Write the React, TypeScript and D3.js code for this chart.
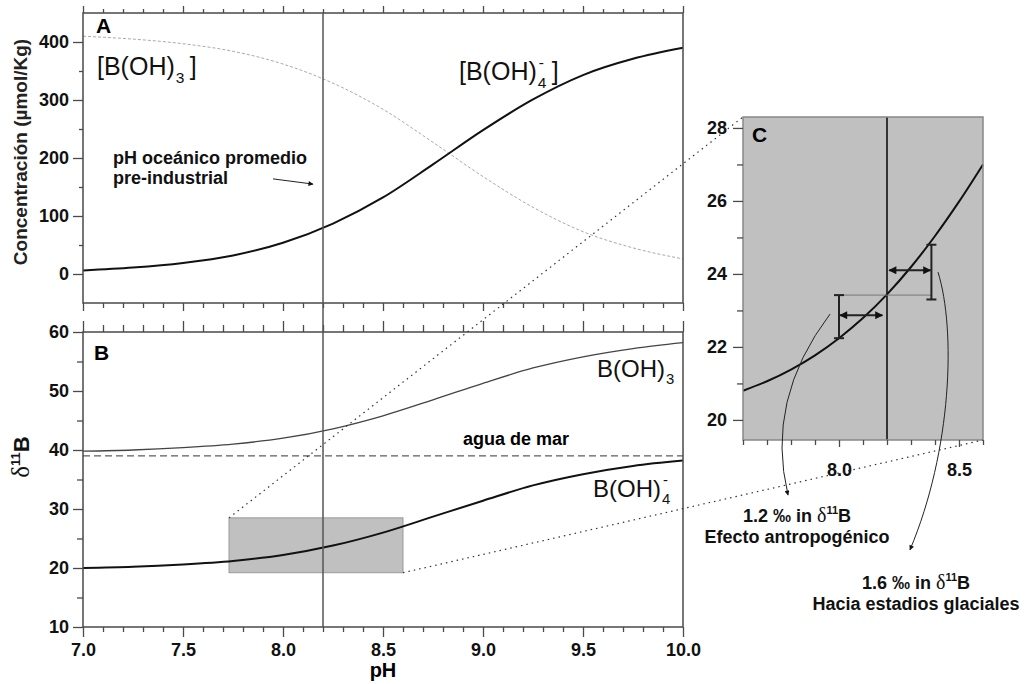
import { useRef, useEffect } from 'react';
import * as d3 from 'd3';

const WIDTH = 1031;
const HEIGHT = 684;

// pH grid shared by panels A and B
const phGrid = [7.0, 7.25, 7.5, 7.75, 8.0, 8.25, 8.5, 8.75, 9.0, 9.25, 9.5, 9.75, 10.0];
// panel A: concentration (µmol/Kg)
const borateConc = [6, 11, 19, 32, 54, 87, 132, 189, 248, 301, 343, 371, 390];
const boricConc = [410, 405, 397, 384, 362, 329, 284, 227, 168, 115, 73, 45, 26];
// panel B: d11B
const boricD11B = [39.8, 40.0, 40.4, 41.0, 42.0, 43.6, 45.8, 48.5, 51.3, 53.9, 55.8, 57.2, 58.2];
const borateD11B = [20.0, 20.2, 20.6, 21.2, 22.2, 23.8, 26.0, 28.7, 31.4, 34.0, 35.9, 37.3, 38.2];
const seawaterD11B = 39;
const preIndustrialPH = 8.2;

// panel C: zoom of the borate curve
const phZoom = [7.6, 7.7, 7.8, 7.9, 8.0, 8.1, 8.2, 8.3, 8.4, 8.5, 8.6];
const borateD11BZoom = [20.8, 21.06, 21.38, 21.77, 22.24, 22.79, 23.44, 24.19, 25.04, 25.98, 27.0];
const zoomBoxPH = [7.73, 8.6];
const zoomBoxD11B = [19.2, 28.5];

// [pH, low, high] bars and [pH from, pH to, d11B] arrows in panel C
const anthropoBar = [8.0, 22.24, 23.42];
const glacialBar = [8.385, 23.3, 24.8];
const anthropoArrow = [8.0, 8.185, 22.87];
const glacialArrow = [8.205, 8.385, 24.1];

const font = '"Liberation Sans", Arial, sans-serif';
const frameColor = '#4a4a4a';

const App = () => {
  const svgRef = useRef<SVGSVGElement>(null);

  useEffect(() => {
    const svg = d3.select(svgRef.current);
    svg.selectAll('*').remove(); // Clear existing content

    const x = d3.scaleLinear().domain([7, 10]).range([83, 683]);
    const yA = d3.scaleLinear().domain([-50, 450]).range([303, 13]);
    const yB = d3.scaleLinear().domain([10, 60]).range([627, 332]);
    const xC = d3.scaleLinear().domain([7.6, 8.6]).range([743, 983]);
    const yC = d3.scaleLinear().domain([19.45, 28.3]).range([440, 117]);

    const defs = svg.append('defs');
    const marker = (id: string, w: number, h: number) => {
      defs.append('marker')
        .attr('id', id)
        .attr('viewBox', '0 0 10 10')
        .attr('refX', 9).attr('refY', 5)
        .attr('markerUnits', 'userSpaceOnUse')
        .attr('markerWidth', w).attr('markerHeight', h)
        .attr('orient', 'auto-start-reverse')
        .append('path').attr('d', 'M0,0 L10,5 L0,10 z').attr('fill', '#111');
    };
    marker('arrowBig', 10, 8);
    marker('arrowSmall', 7, 5);

    const majorPH = d3.range(70, 101, 5).map(d => d / 10);
    const minorPH = d3.range(70, 101).filter(d => d % 5 !== 0).map(d => d / 10);

    const addTicks = (g, axis, values, size, fmt = null, pad = 3) => {
      axis.tickValues(values).tickSize(size).tickSizeOuter(0).tickPadding(pad)
        .tickFormat(fmt ? fmt : () => '');
      const sel = g.append('g').call(axis);
      sel.attr('font-family', null).attr('font-size', null);
      sel.select('.domain').remove();
      sel.selectAll('line').attr('stroke', frameColor).attr('stroke-width', 1.3);
      sel.selectAll('text')
        .attr('font-family', font).attr('font-size', 18)
        .attr('font-weight', 'bold').attr('fill', '#111');
      return sel;
    };

    // ---------- panel A ----------
    const gA = svg.append('g');
    const lineA = d3.line<number>().x((d, i) => x(phGrid[i])).y(d => yA(d)).curve(d3.curveMonotoneX);

    gA.append('path').datum(boricConc)
      .attr('fill', 'none').attr('stroke', '#aaa').attr('stroke-width', 1)
      .attr('stroke-dasharray', '3,2').attr('d', lineA);
    gA.append('path').datum(borateConc)
      .attr('fill', 'none').attr('stroke', '#111').attr('stroke-width', 2)
      .attr('d', lineA);

    gA.append('rect')
      .attr('x', 83).attr('y', 13).attr('width', 600).attr('height', 290)
      .attr('fill', 'none').attr('stroke', frameColor).attr('stroke-width', 1.5);

    addTicks(gA.append('g').attr('transform', 'translate(83,0)'), d3.axisLeft(yA), [0, 100, 200, 300, 400], 10, d3.format('d'), 4);
    addTicks(gA.append('g').attr('transform', 'translate(83,0)'), d3.axisLeft(yA), [50, 150, 250, 350], 4);
    addTicks(gA.append('g').attr('transform', 'translate(0,13)'), d3.axisTop(x), majorPH, 7);
    addTicks(gA.append('g').attr('transform', 'translate(0,13)'), d3.axisTop(x), minorPH, 4);
    addTicks(gA.append('g').attr('transform', 'translate(0,303)'), d3.axisBottom(x), majorPH, 8);
    addTicks(gA.append('g').attr('transform', 'translate(0,303)'), d3.axisBottom(x), minorPH, 5);

    gA.append('text').attr('x', 20).attr('y', 152)
      .attr('transform', 'rotate(-90,20,152)').attr('dy', '0.35em')
      .attr('text-anchor', 'middle').attr('font-family', font)
      .attr('font-size', 19).attr('font-weight', 'bold').attr('fill', '#222')
      .text('Concentración (µmol/Kg)');

    gA.append('text').attr('x', 96).attr('y', 33)
      .attr('font-family', font).attr('font-size', 21).attr('font-weight', 'bold').text('A');

    const chemLabel = (g, x0, y0, size, open, sub, charge, close) => {
      const t = g.append('text').attr('x', x0).attr('y', y0)
        .attr('font-family', font).attr('font-size', size).attr('fill', '#111').text(open);
      const w = t.node().getComputedTextLength();
      const s = g.append('text').attr('x', x0 + w + 1).attr('y', y0 + size * 0.3)
        .attr('font-family', font).attr('font-size', size * 0.62).attr('fill', '#111').text(sub);
      const sw = s.node().getComputedTextLength();
      if (charge) {
        g.append('text').attr('x', x0 + w + 2).attr('y', y0 - size * 0.5)
          .attr('font-family', font).attr('font-size', size * 0.62).attr('fill', '#111').text('-');
      }
      if (close) {
        g.append('text').attr('x', x0 + w + sw + size * 0.25).attr('y', y0)
          .attr('font-family', font).attr('font-size', size).attr('fill', '#111').text(close);
      }
    };
    chemLabel(gA, 97, 75, 25, '[B(OH)', '3', false, ']');
    chemLabel(gA, 459, 80, 25, '[B(OH)', '4', true, ']');

    const note = gA.append('text').attr('font-family', font).attr('font-size', 18)
      .attr('font-weight', 'bold').attr('fill', '#111');
    note.append('tspan').attr('x', 113).attr('y', 164).text('pH oceánico promedio');
    note.append('tspan').attr('x', 113).attr('y', 184).text('pre-industrial');
    gA.append('line')
      .attr('x1', x(7.95)).attr('y1', yA(164)).attr('x2', x(8.15)).attr('y2', yA(155))
      .attr('stroke', '#222').attr('stroke-width', 1).attr('marker-end', 'url(#arrowSmall)');

    // ---------- panel B ----------
    const gB = svg.append('g');
    const lineB = d3.line<number>().x((d, i) => x(phGrid[i])).y(d => yB(d)).curve(d3.curveMonotoneX);

    gB.append('rect')
      .attr('x', x(zoomBoxPH[0])).attr('y', yB(zoomBoxD11B[1]))
      .attr('width', x(zoomBoxPH[1]) - x(zoomBoxPH[0]))
      .attr('height', yB(zoomBoxD11B[0]) - yB(zoomBoxD11B[1]))
      .attr('fill', '#c0c0c0').attr('stroke', '#999').attr('stroke-width', 1);

    gB.append('line')
      .attr('x1', x(7)).attr('x2', x(10)).attr('y1', yB(seawaterD11B)).attr('y2', yB(seawaterD11B))
      .attr('stroke', '#333').attr('stroke-width', 1).attr('stroke-dasharray', '7,4');
    gB.append('path').datum(boricD11B)
      .attr('fill', 'none').attr('stroke', '#444').attr('stroke-width', 1.3).attr('d', lineB);
    gB.append('path').datum(borateD11B)
      .attr('fill', 'none').attr('stroke', '#111').attr('stroke-width', 2).attr('d', lineB);

    gB.append('rect')
      .attr('x', 83).attr('y', 332).attr('width', 600).attr('height', 295)
      .attr('fill', 'none').attr('stroke', frameColor).attr('stroke-width', 1.5);

    addTicks(gB.append('g').attr('transform', 'translate(83,0)'), d3.axisLeft(yB), [10, 20, 30, 40, 50, 60], 10, d3.format('d'), 4);
    addTicks(gB.append('g').attr('transform', 'translate(83,0)'), d3.axisLeft(yB), [15, 25, 35, 45, 55], 6);
    addTicks(gB.append('g').attr('transform', 'translate(0,332)'), d3.axisTop(x), majorPH, 11);
    addTicks(gB.append('g').attr('transform', 'translate(0,332)'), d3.axisTop(x), minorPH, 7);
    addTicks(gB.append('g').attr('transform', 'translate(0,627)'), d3.axisBottom(x), majorPH, 10, d3.format('.1f'), 6);
    addTicks(gB.append('g').attr('transform', 'translate(0,627)'), d3.axisBottom(x), minorPH, 5);

    gB.append('text').attr('x', 383).attr('y', 677).attr('text-anchor', 'middle')
      .attr('font-family', font).attr('font-size', 20).attr('font-weight', 'bold').text('pH');

    const dLab = gB.append('text').attr('transform', 'translate(29,457) rotate(-90)')
      .attr('text-anchor', 'middle').attr('fill', '#111');
    dLab.append('tspan').attr('font-family', '"Liberation Serif", serif').attr('font-size', 25).text('δ');
    dLab.append('tspan').attr('font-family', font).attr('font-size', 13).attr('font-weight', 'bold').attr('dy', -9).text('11');
    dLab.append('tspan').attr('font-family', font).attr('font-size', 22).attr('font-weight', 'bold').attr('dy', 9).text('B');

    gB.append('text').attr('x', 94).attr('y', 360)
      .attr('font-family', font).attr('font-size', 21).attr('font-weight', 'bold').text('B');

    chemLabel(gB, 597, 377, 24, 'B(OH)', '3', false, null);
    chemLabel(gB, 593, 497, 24, 'B(OH)', '4', true, null);

    gB.append('text').attr('x', 516).attr('y', 445).attr('text-anchor', 'middle')
      .attr('font-family', font).attr('font-size', 18).attr('font-weight', 'bold').text('agua de mar');

    // pre-industrial pH line across A and B
    svg.append('line')
      .attr('x1', x(preIndustrialPH)).attr('x2', x(preIndustrialPH)).attr('y1', 13).attr('y2', 627)
      .attr('stroke', '#555').attr('stroke-width', 1.5);

    // ---------- panel C ----------
    const gC = svg.append('g');
    gC.append('rect')
      .attr('x', xC(7.6)).attr('y', yC(28.3)).attr('width', xC(8.6) - xC(7.6)).attr('height', yC(19.45) - yC(28.3))
      .attr('fill', '#c0c0c0');

    const lineC = d3.line<number>().x((d, i) => xC(phZoom[i])).y(d => yC(d)).curve(d3.curveMonotoneX);
    gC.append('path').datum(borateD11BZoom)
      .attr('fill', 'none').attr('stroke', '#111').attr('stroke-width', 2).attr('d', lineC);

    gC.append('line')
      .attr('x1', xC(preIndustrialPH)).attr('x2', xC(preIndustrialPH)).attr('y1', yC(28.3)).attr('y2', yC(19.45))
      .attr('stroke', '#111').attr('stroke-width', 1.6);

    gC.append('line')
      .attr('x1', xC(anthropoBar[0])).attr('x2', xC(glacialBar[0]))
      .attr('y1', yC(anthropoBar[2])).attr('y2', yC(anthropoBar[2]))
      .attr('stroke', '#777').attr('stroke-width', 1);

    const errBar = (b: number[]) => {
      const bx = xC(b[0]);
      gC.append('line').attr('x1', bx).attr('x2', bx).attr('y1', yC(b[1])).attr('y2', yC(b[2]))
        .attr('stroke', '#222').attr('stroke-width', 2);
      [b[1], b[2]].forEach(v => {
        gC.append('line').attr('x1', bx - 5).attr('x2', bx + 5).attr('y1', yC(v)).attr('y2', yC(v))
          .attr('stroke', '#222').attr('stroke-width', 2);
      });
    };
    errBar(anthropoBar);
    errBar(glacialBar);

    const dblArrow = (a: number[]) => {
      gC.append('line').attr('x1', xC(a[0]) + 1).attr('x2', xC(a[1]) - 1).attr('y1', yC(a[2])).attr('y2', yC(a[2]))
        .attr('stroke', '#222').attr('stroke-width', 2)
        .attr('marker-start', 'url(#arrowBig)').attr('marker-end', 'url(#arrowBig)');
    };
    dblArrow(anthropoArrow);
    dblArrow(glacialArrow);

    gC.append('rect')
      .attr('x', xC(7.6)).attr('y', yC(28.3)).attr('width', xC(8.6) - xC(7.6)).attr('height', yC(19.45) - yC(28.3))
      .attr('fill', 'none').attr('stroke', '#888').attr('stroke-width', 1.5);

    addTicks(gC.append('g').attr('transform', `translate(${xC(7.6)},0)`), d3.axisLeft(yC), [20, 22, 24, 26, 28], 10, d3.format('d'), 6);
    addTicks(gC.append('g').attr('transform', `translate(${xC(7.6)},0)`), d3.axisLeft(yC), [21, 23, 25, 27], 6);
    addTicks(gC.append('g').attr('transform', `translate(0,${yC(19.45)})`), d3.axisBottom(xC), [8.0, 8.5], 7, d3.format('.1f'), 16);
    addTicks(gC.append('g').attr('transform', `translate(0,${yC(19.45)})`), d3.axisBottom(xC),
      d3.range(76, 87).filter(d => d !== 80 && d !== 85).map(d => d / 10), 5);

    gC.append('text').attr('x', 752).attr('y', 142)
      .attr('font-family', font).attr('font-size', 21).attr('font-weight', 'bold').text('C');

    // curved pointers from the bars to the notes
    const curveArrow = (pts: number[][]) => {
      const p = d3.path();
      p.moveTo(xC(pts[0][0]), yC(pts[0][1]));
      if (pts.length === 3) {
        p.quadraticCurveTo(xC(pts[1][0]), yC(pts[1][1]), xC(pts[2][0]), yC(pts[2][1]));
      } else {
        p.bezierCurveTo(xC(pts[1][0]), yC(pts[1][1]), xC(pts[2][0]), yC(pts[2][1]), xC(pts[3][0]), yC(pts[3][1]));
      }
      svg.append('path').attr('d', p.toString()).attr('fill', 'none')
        .attr('stroke', '#222').attr('stroke-width', 1).attr('marker-end', 'url(#arrowSmall)');
    };
    curveArrow([[7.9625, 22.9], [7.692, 20.55], [7.7875, 17.94]]);
    curveArrow([[8.4125, 24.05], [8.4875, 22.46], [8.4708, 19.18], [8.2958, 16.44]]);

    const permil = (cx: number, cy: number, val: string, caption: string) => {
      const t = svg.append('text').attr('x', cx).attr('y', cy).attr('text-anchor', 'middle')
        .attr('font-family', font).attr('font-size', 18).attr('font-weight', 'bold').attr('fill', '#111');
      t.append('tspan').text(`${val} ‰ in `);
      t.append('tspan').attr('font-family', '"Liberation Serif", serif').attr('font-weight', 'normal').attr('font-size', 20).text('δ');
      t.append('tspan').attr('font-size', 11).attr('dy', -8).text('11');
      t.append('tspan').attr('dy', 8).text('B');
      svg.append('text').attr('x', cx).attr('y', cy + 21).attr('text-anchor', 'middle')
        .attr('font-family', font).attr('font-size', 18).attr('font-weight', 'bold').attr('fill', '#111')
        .text(caption);
    };
    permil(797, 522, '1.2', 'Efecto antropogénico');
    permil(916, 589, '1.6', 'Hacia estadios glaciales');

    // dotted connectors from the box in B to panel C
    const connectors = [
      [[x(zoomBoxPH[0]), yB(zoomBoxD11B[1])], [xC(7.6), yC(28.3)]],
      [[x(zoomBoxPH[1]), yB(zoomBoxD11B[0])], [xC(8.6), yC(19.45)]],
    ];
    connectors.forEach(c => {
      svg.append('line')
        .attr('x1', c[0][0]).attr('y1', c[0][1]).attr('x2', c[1][0]).attr('y2', c[1][1])
        .attr('stroke', '#333').attr('stroke-width', 1.2).attr('stroke-dasharray', '1.5,4');
    });
  }, []);

  return (
    <svg ref={svgRef} width={WIDTH} height={HEIGHT}
      style={{ position: 'absolute', left: 0, top: 0, background: '#fff' }}></svg>
  );
};

export default App;
